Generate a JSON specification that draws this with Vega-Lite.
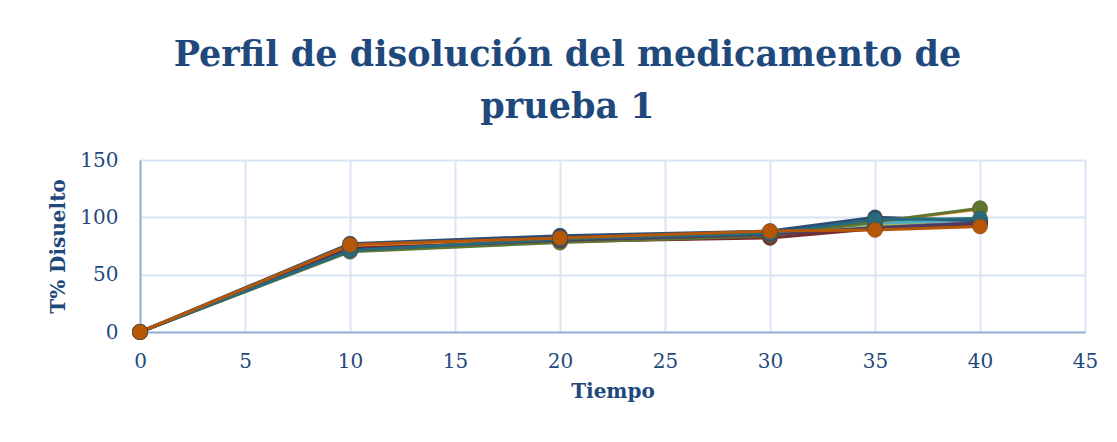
{
  "$schema": "https://vega.github.io/schema/vega-lite/v6.json",
  "width": 945,
  "height": 172,
  "autosize": {"type": "none"},
  "padding": {"left": 140, "top": 160, "right": 32, "bottom": 110},
  "background": "white",
  "title": {
    "text": ["Perfil de disolución del medicamento de", "prueba 1"],
    "font": "DejaVu Serif",
    "fontSize": 35,
    "fontWeight": "bold",
    "color": "#1f497d",
    "anchor": "middle",
    "dx": -45,
    "offset": 25,
    "lineHeight": 52
  },
  "data": {
    "values": [
      {"serie": "S01", "tiempo": 0, "disuelto": 0}, {"serie": "S01", "tiempo": 10, "disuelto": 74}, {"serie": "S01", "tiempo": 20, "disuelto": 81}, {"serie": "S01", "tiempo": 30, "disuelto": 86}, {"serie": "S01", "tiempo": 35, "disuelto": 92}, {"serie": "S01", "tiempo": 40, "disuelto": 96},
      {"serie": "S02", "tiempo": 0, "disuelto": 0}, {"serie": "S02", "tiempo": 10, "disuelto": 73}, {"serie": "S02", "tiempo": 20, "disuelto": 79}, {"serie": "S02", "tiempo": 30, "disuelto": 83}, {"serie": "S02", "tiempo": 35, "disuelto": 91}, {"serie": "S02", "tiempo": 40, "disuelto": 95},
      {"serie": "S03", "tiempo": 0, "disuelto": 0}, {"serie": "S03", "tiempo": 10, "disuelto": 71}, {"serie": "S03", "tiempo": 20, "disuelto": 80}, {"serie": "S03", "tiempo": 30, "disuelto": 84}, {"serie": "S03", "tiempo": 35, "disuelto": 93}, {"serie": "S03", "tiempo": 40, "disuelto": 97},
      {"serie": "S04", "tiempo": 0, "disuelto": 0}, {"serie": "S04", "tiempo": 10, "disuelto": 72}, {"serie": "S04", "tiempo": 20, "disuelto": 80}, {"serie": "S04", "tiempo": 30, "disuelto": 85}, {"serie": "S04", "tiempo": 35, "disuelto": 91}, {"serie": "S04", "tiempo": 40, "disuelto": 96},
      {"serie": "S05", "tiempo": 0, "disuelto": 0}, {"serie": "S05", "tiempo": 10, "disuelto": 75}, {"serie": "S05", "tiempo": 20, "disuelto": 82}, {"serie": "S05", "tiempo": 30, "disuelto": 86}, {"serie": "S05", "tiempo": 35, "disuelto": 95}, {"serie": "S05", "tiempo": 40, "disuelto": 98},
      {"serie": "S06", "tiempo": 0, "disuelto": 0}, {"serie": "S06", "tiempo": 10, "disuelto": 74}, {"serie": "S06", "tiempo": 20, "disuelto": 81}, {"serie": "S06", "tiempo": 30, "disuelto": 87}, {"serie": "S06", "tiempo": 35, "disuelto": 96}, {"serie": "S06", "tiempo": 40, "disuelto": 107},
      {"serie": "S07", "tiempo": 0, "disuelto": 0}, {"serie": "S07", "tiempo": 10, "disuelto": 77}, {"serie": "S07", "tiempo": 20, "disuelto": 84}, {"serie": "S07", "tiempo": 30, "disuelto": 88}, {"serie": "S07", "tiempo": 35, "disuelto": 100}, {"serie": "S07", "tiempo": 40, "disuelto": 97},
      {"serie": "S08", "tiempo": 0, "disuelto": 0}, {"serie": "S08", "tiempo": 10, "disuelto": 73}, {"serie": "S08", "tiempo": 20, "disuelto": 79}, {"serie": "S08", "tiempo": 30, "disuelto": 82}, {"serie": "S08", "tiempo": 35, "disuelto": 90}, {"serie": "S08", "tiempo": 40, "disuelto": 94},
      {"serie": "S09", "tiempo": 0, "disuelto": 0}, {"serie": "S09", "tiempo": 10, "disuelto": 70}, {"serie": "S09", "tiempo": 20, "disuelto": 78}, {"serie": "S09", "tiempo": 30, "disuelto": 84}, {"serie": "S09", "tiempo": 35, "disuelto": 96}, {"serie": "S09", "tiempo": 40, "disuelto": 108},
      {"serie": "S10", "tiempo": 0, "disuelto": 0}, {"serie": "S10", "tiempo": 10, "disuelto": 72}, {"serie": "S10", "tiempo": 20, "disuelto": 80}, {"serie": "S10", "tiempo": 30, "disuelto": 85}, {"serie": "S10", "tiempo": 35, "disuelto": 91}, {"serie": "S10", "tiempo": 40, "disuelto": 95},
      {"serie": "S11", "tiempo": 0, "disuelto": 0}, {"serie": "S11", "tiempo": 10, "disuelto": 71}, {"serie": "S11", "tiempo": 20, "disuelto": 81}, {"serie": "S11", "tiempo": 30, "disuelto": 86}, {"serie": "S11", "tiempo": 35, "disuelto": 98}, {"serie": "S11", "tiempo": 40, "disuelto": 99},
      {"serie": "S12", "tiempo": 0, "disuelto": 0}, {"serie": "S12", "tiempo": 10, "disuelto": 76}, {"serie": "S12", "tiempo": 20, "disuelto": 82}, {"serie": "S12", "tiempo": 30, "disuelto": 88}, {"serie": "S12", "tiempo": 35, "disuelto": 89}, {"serie": "S12", "tiempo": 40, "disuelto": 92}
    ]
  },
  "encoding": {
    "x": {
      "field": "tiempo", "type": "quantitative",
      "scale": {"domain": [0, 45], "nice": false, "zero": true},
      "axis": {"title": "Tiempo", "values": [0, 5, 10, 15, 20, 25, 30, 35, 40, 45], "titlePadding": 10, "labelFlush": false, "labelPadding": 19}
    },
    "y": {
      "field": "disuelto", "type": "quantitative",
      "scale": {"domain": [0, 150], "nice": false},
      "axis": {"title": "T% Disuelto", "values": [0, 50, 100, 150], "titlePadding": 11, "labelPadding": 22}
    },
    "color": {
      "field": "serie", "type": "nominal", "legend": null,
      "scale": {
        "domain": ["S01", "S02", "S03", "S04", "S05", "S06", "S07", "S08", "S09", "S10", "S11", "S12"],
        "range": ["#4F81BD", "#C0504D", "#9BBB59", "#8064A2", "#4BACC6", "#F79646", "#2C4D75", "#772C2A", "#5F7530", "#4D3B62", "#276A7C", "#B65708"]
      }
    }
  },
  "layer": [
    {"mark": {"type": "line", "strokeWidth": 3}},
    {"mark": {"type": "point", "filled": true, "size": 230, "opacity": 1, "strokeWidth": 1, "stroke": "#5a4030", "strokeOpacity": 0.35}}
  ],
  "config": {
    "view": {"stroke": null},
    "axis": {
      "labelFont": "DejaVu Serif",
      "labelFontSize": 20,
      "labelColor": "#1f497d",
      "titleFont": "DejaVu Serif",
      "titleFontSize": 20,
      "titleFontWeight": "bold",
      "titleColor": "#1f497d",
      "gridColor": "#d9e4f4",
      "gridWidth": 2,
      "gridOpacity": 1,
      "ticks": false,
      "domainColor": "#95b3d7",
      "domainWidth": 2
    }
  }
}
